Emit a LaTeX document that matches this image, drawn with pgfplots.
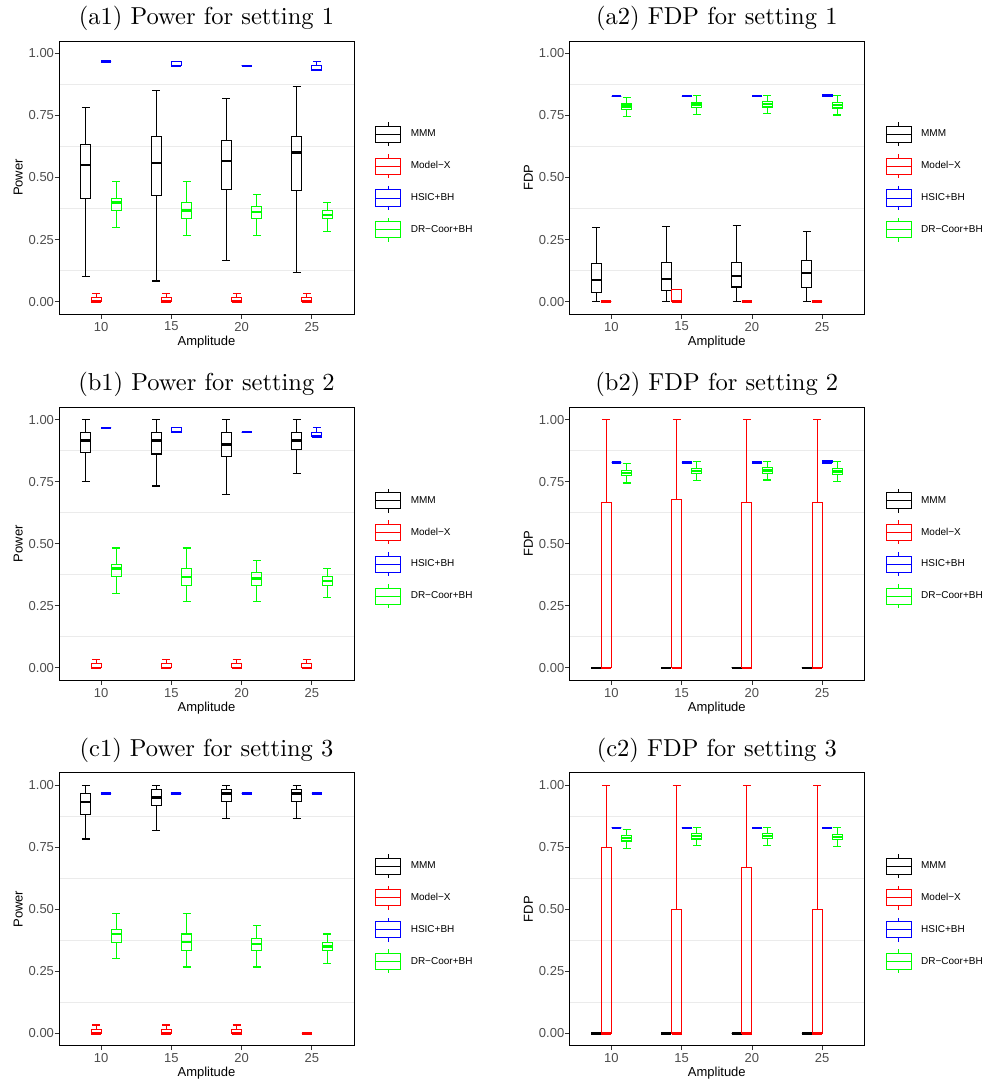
\documentclass[border=0pt]{standalone}
\usepackage{fontspec}
\setsansfont{Liberation Sans}
\newfontfamily\tickfont{Liberation Sans}[Color=4D4D4D]
\newfontfamily\titlefont{lmroman10-regular.otf}
\usepackage{pgfplots}
\pgfplotsset{compat=1.18}
\usepgfplotslibrary{statistics}
\definecolor{mygreen}{RGB}{0,255,0}
\definecolor{gridgray}{RGB}{235,235,235}
\definecolor{frame}{RGB}{51,51,51}

% box: position, lower whisker, Q1, median, Q3, upper whisker, colour
\newcommand{\bx}[7]{\addplot[forget plot, color=#7, draw=#7, line width=1.1pt,
  boxplot prepared={draw direction=y, draw position=#1, lower whisker=#2, lower quartile=#3,
  median=#4, upper quartile=#5, upper whisker=#6, box extend=0.142}] coordinates {};}

\pgfplotsset{
  legbox/.style={legend image code/.code={
    \draw[draw=#1, line width=0.8pt] (0pt,-8pt) rectangle (25pt,8pt);
    \draw[draw=#1, line width=0.8pt] (0pt,0pt) -- (25pt,0pt);
    \draw[draw=#1, line width=0.8pt] (12.5pt,8pt) -- (12.5pt,12pt) (12.5pt,-8pt) -- (12.5pt,-12pt);
    \path (35pt,0pt);}},
  panel/.style={
    scale only axis, width=295pt, height=273pt,
    anchor=south west,
    xmin=0.4, xmax=4.6, ymin=-0.05, ymax=1.05,
    xtick={1,2,3,4}, xticklabels={10,15,20,25},
    ytick={0,0.25,0.5,0.75,1}, yticklabels={0.00,0.25,0.50,0.75,1.00},
    minor ytick={0.125,0.375,0.625,0.875},
    yminorgrids=true, minor grid style={draw=gridgray, line width=0.8pt},
    minor tick length=0pt,
    tick align=outside, major tick length=4.5pt,
    tick style={draw=frame, line width=0.8pt},
    axis line style={draw=black, line width=0.8pt},
    xtick pos=bottom, ytick pos=left,
    tick label style={font=\fontsize{13}{15}\selectfont\tickfont},
    yticklabel style={xshift=3pt},
    label style={font=\fontsize{13}{15}\selectfont\sffamily},
    title style={font=\titlefont\fontsize{24.5}{28}\selectfont, at={(0.5,1)}, anchor=base, yshift=10.5pt},
    xlabel=Amplitude,
    xlabel style={at={(axis description cs:0.5,0)}, anchor=base, yshift=-31pt},
    ylabel style={at={(axis description cs:-0.1237,0.5)}, anchor=base},
    legend style={at={(1,0.5)}, anchor=west, xshift=21pt, yshift=-4.5pt, draw=none, fill=none,
      font=\fontsize{10}{12}\selectfont\sffamily, row sep=7pt, column sep=0pt, inner sep=0pt,
      nodes={inner sep=0pt}},
    legend cell align=left,
    boxplot/every median/.style={line width=2.4pt},
  }
}
\newcommand{\legendboxes}{%
  \addlegendimage{legbox=black}\addlegendentry{MMM}
  \addlegendimage{legbox=red}\addlegendentry{Model−X}
  \addlegendimage{legbox=blue}\addlegendentry{HSIC+BH}
  \addlegendimage{legbox=mygreen}\addlegendentry{DR−Coor+BH}}

\begin{document}
\begin{tikzpicture}
\useasboundingbox (0pt,0pt) rectangle (987pt,-1083pt);

% ---------------- (a1)
\begin{axis}[panel, at={(59pt,-314pt)}, title={(a1) Power for setting 1}, ylabel=Power]
\legendboxes
\bx{0.783}{0.100}{0.417}{0.551}{0.633}{0.783}{black}
\bx{1.783}{0.083}{0.429}{0.559}{0.667}{0.850}{black}
\bx{2.783}{0.167}{0.450}{0.567}{0.650}{0.817}{black}
\bx{3.783}{0.117}{0.446}{0.600}{0.667}{0.867}{black}
\bx{0.928}{0}{0}{0}{0.0167}{0.0333}{red}
\bx{1.928}{0}{0}{0}{0.0167}{0.0333}{red}
\bx{2.928}{0}{0}{0}{0.0167}{0.0333}{red}
\bx{3.928}{0}{0}{0}{0.0167}{0.0333}{red}
\bx{1.072}{0.967}{0.967}{0.967}{0.967}{0.967}{blue}
\bx{2.072}{0.950}{0.950}{0.950}{0.967}{0.967}{blue}
\bx{3.072}{0.950}{0.950}{0.950}{0.950}{0.950}{blue}
\bx{4.072}{0.933}{0.933}{0.933}{0.950}{0.967}{blue}
\bx{1.217}{0.300}{0.367}{0.400}{0.417}{0.483}{mygreen}
\bx{2.217}{0.267}{0.333}{0.367}{0.400}{0.483}{mygreen}
\bx{3.217}{0.267}{0.333}{0.361}{0.383}{0.433}{mygreen}
\bx{4.217}{0.283}{0.333}{0.350}{0.367}{0.400}{mygreen}
\end{axis}

% ---------------- (a2)
\begin{axis}[panel, at={(569.3pt,-314pt)}, title={(a2) FDP for setting 1}, ylabel=FDP]
\legendboxes
\bx{0.783}{0}{0.035}{0.088}{0.154}{0.298}{black}
\bx{1.783}{0}{0.046}{0.092}{0.158}{0.302}{black}
\bx{2.783}{0}{0.059}{0.103}{0.158}{0.306}{black}
\bx{3.783}{0}{0.056}{0.115}{0.166}{0.283}{black}
\bx{0.928}{0}{0}{0}{0}{0}{red}
\bx{1.928}{0}{0}{0}{0.050}{0.050}{red}
\bx{2.928}{0}{0}{0}{0}{0}{red}
\bx{3.928}{0}{0}{0}{0}{0}{red}
\bx{1.072}{0.828}{0.828}{0.828}{0.828}{0.828}{blue}
\bx{2.072}{0.828}{0.828}{0.828}{0.828}{0.828}{blue}
\bx{3.072}{0.828}{0.828}{0.828}{0.828}{0.828}{blue}
\bx{4.072}{0.828}{0.828}{0.828}{0.834}{0.834}{blue}
\bx{1.217}{0.745}{0.775}{0.786}{0.796}{0.822}{mygreen}
\bx{2.217}{0.755}{0.783}{0.794}{0.804}{0.830}{mygreen}
\bx{3.217}{0.757}{0.784}{0.795}{0.806}{0.830}{mygreen}
\bx{4.217}{0.752}{0.780}{0.791}{0.802}{0.830}{mygreen}
\end{axis}

% ---------------- (b1)
\begin{axis}[panel, at={(59pt,-680.3pt)}, title={(b1) Power for setting 2}, ylabel=Power]
\legendboxes
\bx{0.783}{0.750}{0.867}{0.917}{0.950}{1.0}{black}
\bx{1.783}{0.733}{0.862}{0.917}{0.950}{1.0}{black}
\bx{2.783}{0.700}{0.850}{0.900}{0.950}{1.0}{black}
\bx{3.783}{0.783}{0.879}{0.917}{0.950}{1.0}{black}
\bx{0.928}{0}{0}{0}{0.0167}{0.0333}{red}
\bx{1.928}{0}{0}{0}{0.0167}{0.0333}{red}
\bx{2.928}{0}{0}{0}{0.0167}{0.0333}{red}
\bx{3.928}{0}{0}{0}{0.0167}{0.0333}{red}
\bx{1.072}{0.967}{0.967}{0.967}{0.967}{0.967}{blue}
\bx{2.072}{0.950}{0.950}{0.950}{0.967}{0.967}{blue}
\bx{3.072}{0.950}{0.950}{0.950}{0.950}{0.950}{blue}
\bx{4.072}{0.933}{0.933}{0.933}{0.950}{0.967}{blue}
\bx{1.217}{0.300}{0.367}{0.400}{0.417}{0.483}{mygreen}
\bx{2.217}{0.267}{0.333}{0.367}{0.400}{0.483}{mygreen}
\bx{3.217}{0.267}{0.333}{0.361}{0.383}{0.433}{mygreen}
\bx{4.217}{0.283}{0.333}{0.350}{0.367}{0.400}{mygreen}
\end{axis}

% ---------------- (b2)
\begin{axis}[panel, at={(569.3pt,-680.3pt)}, title={(b2) FDP for setting 2}, ylabel=FDP]
\legendboxes
\bx{0.783}{0}{0}{0}{0}{0}{black}
\bx{1.783}{0}{0}{0}{0}{0}{black}
\bx{2.783}{0}{0}{0}{0}{0}{black}
\bx{3.783}{0}{0}{0}{0}{0}{black}
\bx{0.928}{0}{0}{0}{0.667}{1.0}{red}
\bx{1.928}{0}{0}{0}{0.677}{1.0}{red}
\bx{2.928}{0}{0}{0}{0.667}{1.0}{red}
\bx{3.928}{0}{0}{0}{0.667}{1.0}{red}
\bx{1.072}{0.828}{0.828}{0.828}{0.828}{0.828}{blue}
\bx{2.072}{0.828}{0.828}{0.828}{0.828}{0.828}{blue}
\bx{3.072}{0.828}{0.828}{0.828}{0.828}{0.828}{blue}
\bx{4.072}{0.828}{0.828}{0.828}{0.834}{0.834}{blue}
\bx{1.217}{0.745}{0.775}{0.786}{0.796}{0.822}{mygreen}
\bx{2.217}{0.755}{0.783}{0.794}{0.804}{0.830}{mygreen}
\bx{3.217}{0.757}{0.784}{0.795}{0.806}{0.830}{mygreen}
\bx{4.217}{0.752}{0.780}{0.791}{0.802}{0.830}{mygreen}
\end{axis}

% ---------------- (c1)
\begin{axis}[panel, at={(59pt,-1045.7pt)}, title={(c1) Power for setting 3}, ylabel=Power]
\legendboxes
\bx{0.783}{0.783}{0.883}{0.933}{0.967}{1.0}{black}
\bx{1.783}{0.817}{0.917}{0.950}{0.983}{1.0}{black}
\bx{2.783}{0.867}{0.933}{0.967}{0.983}{1.0}{black}
\bx{3.783}{0.867}{0.933}{0.967}{0.983}{1.0}{black}
\bx{0.928}{0}{0}{0}{0.0167}{0.0333}{red}
\bx{1.928}{0}{0}{0}{0.0167}{0.0333}{red}
\bx{2.928}{0}{0}{0}{0.0167}{0.0333}{red}
\bx{3.928}{0}{0}{0}{0}{0}{red}
\bx{1.072}{0.967}{0.967}{0.967}{0.967}{0.967}{blue}
\bx{2.072}{0.967}{0.967}{0.967}{0.967}{0.967}{blue}
\bx{3.072}{0.967}{0.967}{0.967}{0.967}{0.967}{blue}
\bx{4.072}{0.967}{0.967}{0.967}{0.967}{0.967}{blue}
\bx{1.217}{0.300}{0.367}{0.400}{0.417}{0.483}{mygreen}
\bx{2.217}{0.267}{0.333}{0.367}{0.400}{0.483}{mygreen}
\bx{3.217}{0.267}{0.333}{0.361}{0.383}{0.433}{mygreen}
\bx{4.217}{0.283}{0.333}{0.350}{0.367}{0.400}{mygreen}
\end{axis}

% ---------------- (c2)
\begin{axis}[panel, at={(569.3pt,-1045.7pt)}, title={(c2) FDP for setting 3}, ylabel=FDP]
\legendboxes
\bx{0.783}{0}{0}{0}{0}{0}{black}
\bx{1.783}{0}{0}{0}{0}{0}{black}
\bx{2.783}{0}{0}{0}{0}{0}{black}
\bx{3.783}{0}{0}{0}{0}{0}{black}
\bx{0.928}{0}{0}{0}{0.750}{1.0}{red}
\bx{1.928}{0}{0}{0}{0.500}{1.0}{red}
\bx{2.928}{0}{0}{0}{0.667}{1.0}{red}
\bx{3.928}{0}{0}{0}{0.500}{1.0}{red}
\bx{1.072}{0.828}{0.828}{0.828}{0.828}{0.828}{blue}
\bx{2.072}{0.828}{0.828}{0.828}{0.828}{0.828}{blue}
\bx{3.072}{0.828}{0.828}{0.828}{0.828}{0.828}{blue}
\bx{4.072}{0.828}{0.828}{0.828}{0.828}{0.828}{blue}
\bx{1.217}{0.745}{0.775}{0.786}{0.796}{0.822}{mygreen}
\bx{2.217}{0.755}{0.783}{0.794}{0.804}{0.830}{mygreen}
\bx{3.217}{0.757}{0.784}{0.795}{0.806}{0.830}{mygreen}
\bx{4.217}{0.752}{0.780}{0.791}{0.802}{0.830}{mygreen}
\end{axis}
\end{tikzpicture}
\end{document}
